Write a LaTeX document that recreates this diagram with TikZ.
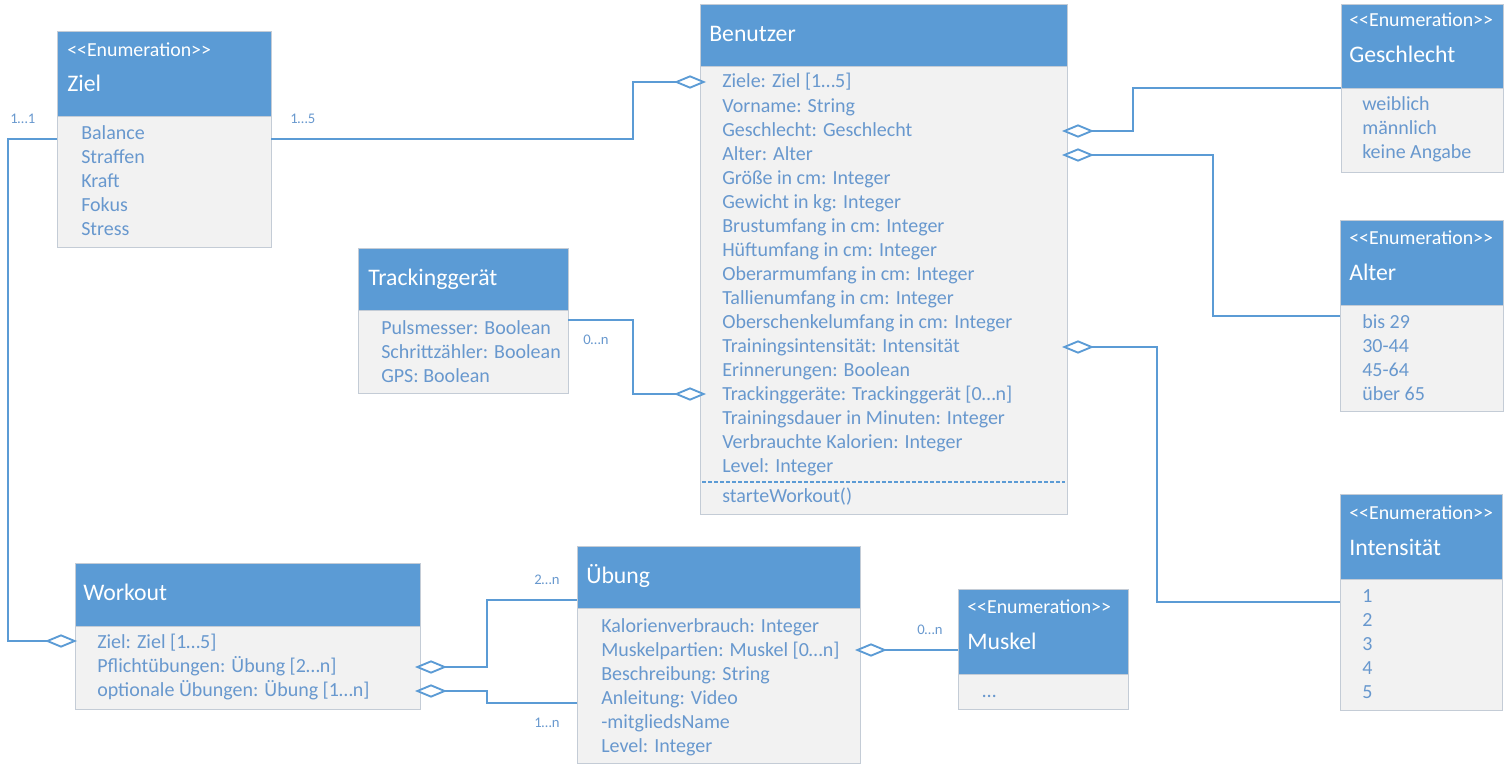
\documentclass[tikz,border=0pt]{standalone}
\usepackage{fontspec}
\setmainfont{Carlito}
\usetikzlibrary{arrows.meta,fit}
\definecolor{umlblue}{RGB}{91,155,213}
\definecolor{umltext}{RGB}{104,152,206}
\definecolor{umlgray}{RGB}{242,242,242}
\definecolor{umlframe}{RGB}{196,204,214}
\begin{document}
\begin{tikzpicture}[x=0.75pt,y=-0.75pt,
  head/.style={fill=umlblue,draw=umlframe,line width=0.6pt,inner sep=0pt},
  body/.style={fill=umlgray,draw=umlframe,line width=0.6pt,inner sep=0pt},
  title/.style={anchor=base west,inner sep=0pt,text=white,font=\fontsize{17.8}{20}\selectfont},
  stereo/.style={anchor=base west,inner sep=0pt,text=white,font=\fontsize{14.9}{18}\selectfont},
  item/.style={anchor=base west,inner sep=0pt,text=umltext,font=\fontsize{15}{18}\selectfont},
  mult/.style={anchor=base west,inner sep=0pt,text=umltext,font=\fontsize{11}{13}\selectfont},
  assoc/.style={draw=umlblue,line width=1.4pt,-{Diamond[fill=white,length=24pt,width=10pt]}}]
\useasboundingbox (0,0) rectangle (1512,774);

\node[head,fit={(57,31) (271,116)}] (zielH) {};
\node[body,fit={(57,116) (271,247)}] (zielB) {};
\node[stereo] (zielS) at (67,56) {<{}<Enumeration>{}>};
\node[title] (zielT) at (67,92) {Ziel};
\foreach \t [count=\i from 0] in {Balance,Straffen,Kraft,Fokus,Stress}
  \node[item] (ziel-\i) at (81,139+24*\i) {\t};

\node[head,fit={(700,4) (1067,66)}] (benH) {};
\node[body,fit={(700,66) (1067,514)}] (benB) {};
\node[title] (benT) at (709,42) {Benutzer};
\foreach \t [count=\i from 0] in {Ziele: Ziel [1…5],Vorname: String,Geschlecht: Geschlecht,Alter: Alter,
  Größe in cm: Integer,Gewicht in kg: Integer,Brustumfang in cm: Integer,Hüftumfang in cm: Integer,
  Oberarmumfang in cm: Integer,Tallienumfang in cm: Integer,Oberschenkelumfang in cm: Integer,
  Trainingsintensität: Intensität,Erinnerungen: Boolean,Trackinggeräte: Trackinggerät [0…n],
  Trainingsdauer in Minuten: Integer,Verbrauchte Kalorien: Integer,Level: Integer}
  \node[item] (ben-\i) at (722,88+24*\i) {\t};
\draw[umlblue,line width=0.8pt,dash pattern=on 3pt off 1.5pt] (702,482) -- (1065,482);
\node[item] (benM) at (722,502) {starteWorkout()};

\node[head,fit={(1341,4) (1503,88)}] (gesH) {};
\node[body,fit={(1341,88) (1503,172)}] (gesB) {};
\node[stereo] (gesS) at (1349,27) {<{}<Enumeration>{}>};
\node[title] (gesT) at (1349,63) {Geschlecht};
\foreach \t [count=\i from 0] in {weiblich,männlich,keine Angabe}
  \node[item] (ges-\i) at (1362,110+24*\i) {\t};

\node[head,fit={(1340,220) (1503,305)}] (altH) {};
\node[body,fit={(1340,305) (1503,411)}] (altB) {};
\node[stereo] (altS) at (1349,244) {<{}<Enumeration>{}>};
\node[title] (altT) at (1349,280) {Alter};
\foreach \t [count=\i from 0] in {bis 29,30-44,45-64,über 65}
  \node[item] (alt-\i) at (1362,328+24*\i) {\t};

\node[head,fit={(1340,494) (1502,579)}] (intH) {};
\node[body,fit={(1340,579) (1502,710)}] (intB) {};
\node[stereo] (intS) at (1349,519) {<{}<Enumeration>{}>};
\node[title] (intT) at (1349,555) {Intensität};
\foreach \t [count=\i from 0] in {1,2,3,4,5}
  \node[item] (int-\i) at (1362,602+24*\i) {\t};

\node[head,fit={(358,248) (568,310)}] (trkH) {};
\node[body,fit={(358,310) (568,393)}] (trkB) {};
\node[title] (trkT) at (368,285) {Trackinggerät};
\foreach \t [count=\i from 0] in {Pulsmesser: Boolean,Schrittzähler: Boolean,GPS: Boolean}
  \node[item] (trk-\i) at (381,334+24*\i) {\t};

\node[head,fit={(75,563) (420,626)}] (wrkH) {};
\node[body,fit={(75,626) (420,709)}] (wrkB) {};
\node[title] (wrkT) at (83,600) {Workout};
\foreach \t [count=\i from 0] in {Ziel: Ziel [1…5],Pflichtübungen: Übung [2…n],optionale Übungen: Übung [1…n]}
  \node[item] (wrk-\i) at (97,648+24*\i) {\t};

\node[head,fit={(577,546) (860,608)}] (ubgH) {};
\node[body,fit={(577,608) (860,763)}] (ubgB) {};
\node[title] (ubgT) at (586,583) {Übung};
\foreach \t [count=\i from 0] in {Kalorienverbrauch: Integer,Muskelpartien: Muskel [0…n],Beschreibung: String,
  Anleitung: Video,-mitgliedsName,Level: Integer}
  \node[item] (ubg-\i) at (601,632+24*\i) {\t};

\node[head,fit={(958,589) (1128,674)}] (musH) {};
\node[body,fit={(958,674) (1128,709)}] (musB) {};
\node[stereo] (musS) at (967,613) {<{}<Enumeration>{}>};
\node[title] (musT) at (967,649) {Muskel};
\node[item] (mus-0) at (982,697) {…};

\coordinate (benZiel) at (706,82);
\coordinate (benTrk) at (706,394);
\coordinate (benGes) at (1062,131);
\coordinate (benAlt) at (1062,155);
\coordinate (benInt) at (1062,347);
\coordinate (wrkZiel) at (77,641);
\coordinate (wrkPfl) at (415,667);
\coordinate (wrkOpt) at (415,691);
\coordinate (ubgMus) at (855,650);

\draw[assoc] (zielB.east |- 0,139) -| (633,100) |- (benZiel);
\draw[assoc] (zielB.west |- 0,139) -| (8,400) |- (wrkZiel);
\draw[assoc] (trkB.east |- 0,320) -| (633,360) |- (benTrk);
\draw[assoc] (gesH.south west) -| (1133,110) |- (benGes);
\draw[assoc] (altB.west |- 0,316) -| (1213,200) |- (benAlt);
\draw[assoc] (intB.west |- 0,602) -| (1157,500) |- (benInt);
\draw[assoc] (ubgH.west |- 0,600) -| (487,630) |- (wrkPfl);
\draw[assoc] (ubgB.west |- 0,703) -| (487,697) |- (wrkOpt);
\draw[assoc] (musH.west |- 0,650) -- (ubgMus);

\node[mult] (m1) at (10,123) {1…1};
\node[mult] (m2) at (290,123) {1…5};
\node[mult] (m3) at (583,344) {0…n};
\node[mult] (m4) at (534,584) {2…n};
\node[mult] (m5) at (534,727) {1…n};
\node[mult] (m6) at (917,634) {0…n};
\end{tikzpicture}
\end{document}
